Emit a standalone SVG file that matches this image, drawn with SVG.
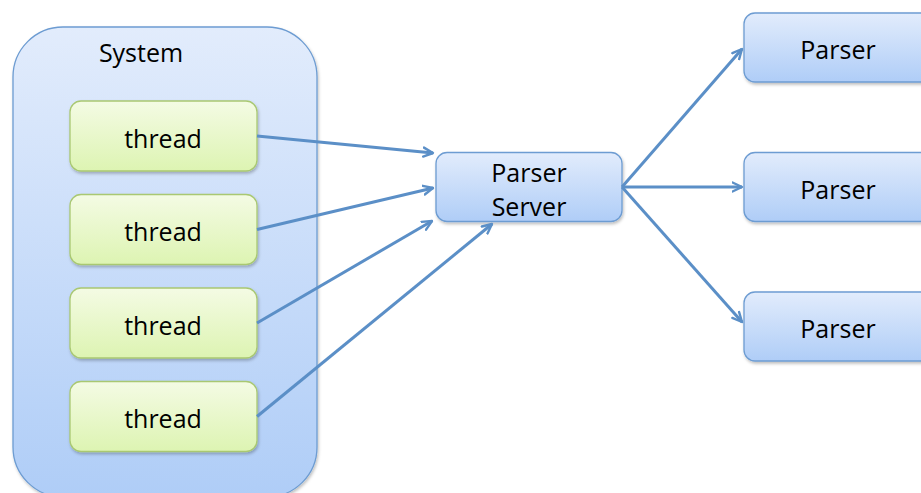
<svg xmlns="http://www.w3.org/2000/svg" width="921" height="493" viewBox="0 0 921 493">
  <defs>
    <linearGradient id="blueFill" x1="0" y1="0" x2="0" y2="1">
      <stop offset="0" stop-color="#e2ecfc"/>
      <stop offset="1" stop-color="#afcdf7"/>
    </linearGradient>
    <linearGradient id="greenFill" x1="0" y1="0" x2="0" y2="1">
      <stop offset="0" stop-color="#f4fbe4"/>
      <stop offset="1" stop-color="#ddf4b2"/>
    </linearGradient>
    <filter id="shadow" x="-10%" y="-10%" width="130%" height="130%">
      <feDropShadow dx="1" dy="2" stdDeviation="1.5" flood-color="#000" flood-opacity="0.25"/>
    </filter>
    <marker id="arrow" viewBox="0 0 12 12" refX="10.5" refY="6" markerWidth="12" markerHeight="12" markerUnits="userSpaceOnUse" orient="auto">
      <path d="M1,1.5 L10.5,6 L1,10.5" fill="none" stroke="#5b8fc7" stroke-width="2.4" stroke-linecap="round" stroke-linejoin="round"/>
    </marker>
  </defs>
  <style>
    .blue { fill: url(#blueFill); stroke: #6d9cd2; stroke-width: 1.3; filter: url(#shadow); }
    .green { fill: url(#greenFill); stroke: #a9c872; stroke-width: 1.3; filter: url(#shadow); }
    .label { font-family: "Open Sans", "Liberation Sans", sans-serif; font-size: 25px; fill: #000; text-anchor: middle; }
    .link { fill: none; stroke: #5b8fc7; stroke-width: 3; marker-end: url(#arrow); }
  </style>

  <rect width="921" height="493" fill="#ffffff"/>

  <g id="system">
    <rect class="blue" x="13" y="27" width="304" height="470" rx="50"/>
    <text class="label" x="141" y="62">System</text>
  </g>

  <g id="thread1">
    <rect class="green" x="70" y="101" width="187" height="70" rx="11"/>
    <text class="label" x="163" y="147.5">thread</text>
  </g>
  <g id="thread2">
    <rect class="green" x="70" y="194.5" width="187" height="70" rx="11"/>
    <text class="label" x="163" y="241">thread</text>
  </g>
  <g id="thread3">
    <rect class="green" x="70" y="288" width="187" height="70" rx="11"/>
    <text class="label" x="163" y="334.5">thread</text>
  </g>
  <g id="thread4">
    <rect class="green" x="70" y="381.5" width="187" height="70" rx="11"/>
    <text class="label" x="163" y="428">thread</text>
  </g>

  <g id="parser-server">
    <rect class="blue" x="436" y="152.5" width="186" height="69" rx="11"/>
    <text class="label" x="529" y="182">Parser</text>
    <text class="label" x="529" y="216">Server</text>
  </g>

  <g id="parser1">
    <rect class="blue" x="744" y="13" width="190" height="69" rx="11"/>
    <text class="label" x="838" y="59">Parser</text>
  </g>
  <g id="parser2">
    <rect class="blue" x="744" y="152.5" width="190" height="69" rx="11"/>
    <text class="label" x="838" y="198.5">Parser</text>
  </g>
  <g id="parser3">
    <rect class="blue" x="744" y="292" width="190" height="69" rx="11"/>
    <text class="label" x="838" y="338">Parser</text>
  </g>

  <g id="connectors">
    <line class="link" x1="257" y1="136" x2="433" y2="153"/>
    <line class="link" x1="257" y1="229.5" x2="433" y2="188"/>
    <line class="link" x1="257" y1="323" x2="432" y2="221"/>
    <line class="link" x1="257" y1="416.5" x2="492" y2="224"/>
    <line class="link" x1="622" y1="187" x2="742" y2="49"/>
    <line class="link" x1="622" y1="187" x2="742" y2="187"/>
    <line class="link" x1="622" y1="187" x2="742" y2="322"/>
  </g>
</svg>
